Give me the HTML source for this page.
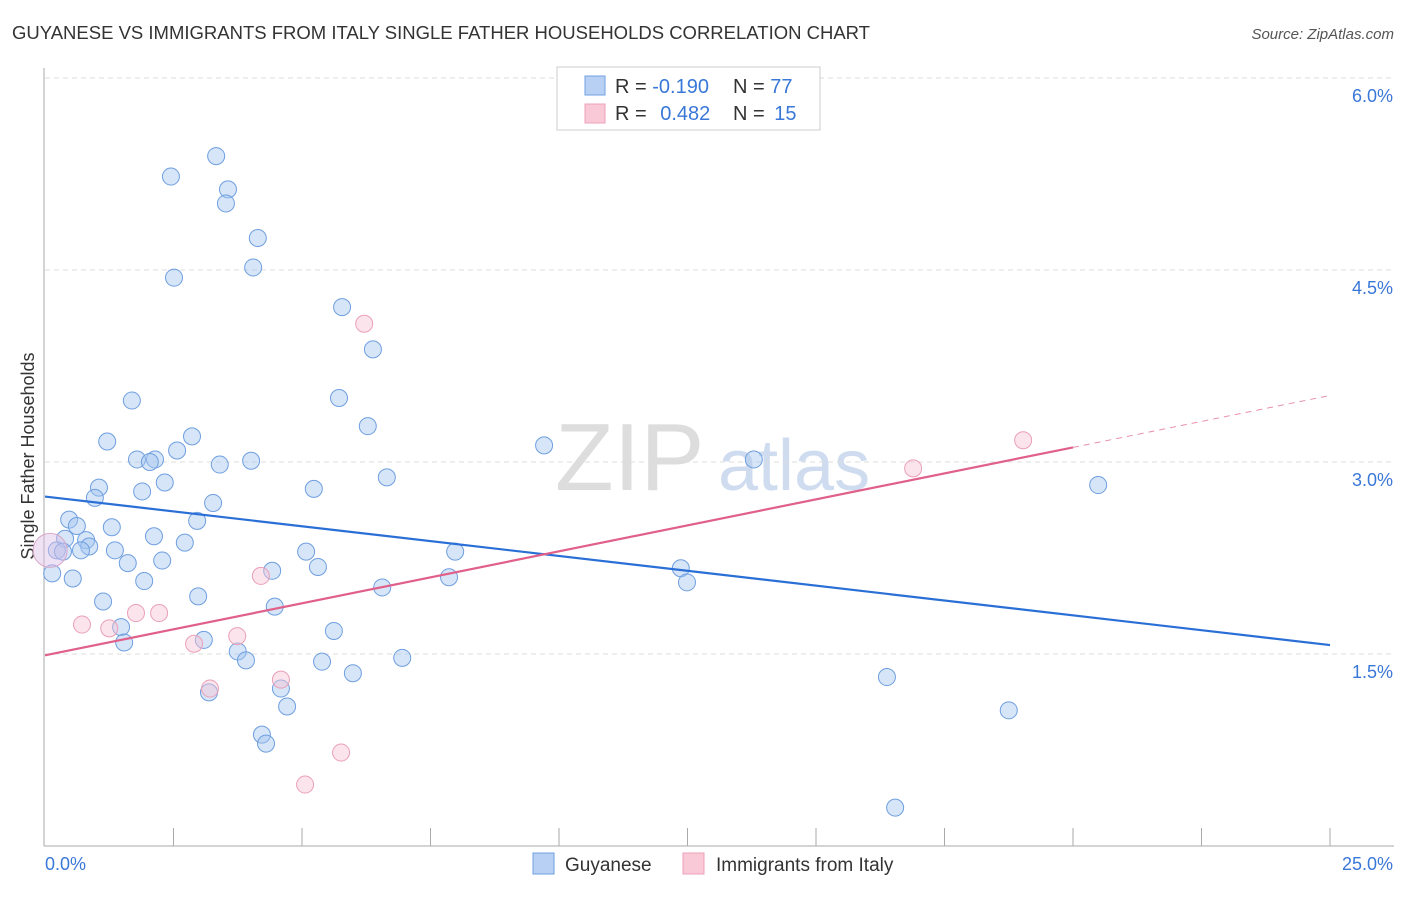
<!DOCTYPE html>
<html><head><meta charset="utf-8"><style>
body{margin:0;background:#fff;font-family:"Liberation Sans",sans-serif}
svg text{font-family:"Liberation Sans",sans-serif}
</style></head><body>
<svg id="chart" width="1406" height="892" xmlns="http://www.w3.org/2000/svg">
<text x="12" y="39" font-size="18.5" fill="#333">GUYANESE VS IMMIGRANTS FROM ITALY SINGLE FATHER HOUSEHOLDS CORRELATION CHART</text>
<text x="1394" y="39" font-size="15" fill="#555" font-style="italic" text-anchor="end">Source: ZipAtlas.com</text>
<text x="555" y="490" font-size="96" fill="#ddd" font-family="Liberation Serif">ZIP</text>
<text x="718" y="490" font-size="72" fill="#cfdcef">atlas</text>
<text transform="translate(34,456) rotate(-90)" font-size="18" fill="#333" text-anchor="middle">Single Father Households</text>
<g id="grid"></g><g id="axes"></g><g id="marks"></g>
<g>
<rect x="557" y="67" width="263" height="63" fill="#fff" stroke="#ccc"/>
<rect x="585" y="76" width="20" height="19" fill="#b8d0f3" stroke="#6f9fe0"/>
<rect x="585" y="104" width="20" height="19" fill="#f9c9d8" stroke="#eea0b8"/>
<text x="615" y="93" font-size="20" fill="#333">R = <tspan fill="#3a78d8">-0.190</tspan></text>
<text x="733" y="93" font-size="20" fill="#333">N = <tspan fill="#3a78d8">77</tspan></text>
<text x="615" y="120" font-size="20" fill="#333">R = <tspan fill="#3a78d8" dx="8">0.482</tspan></text>
<text x="733" y="120" font-size="20" fill="#333">N = <tspan fill="#3a78d8" dx="4">15</tspan></text>
</g>
<g>
<rect x="533" y="853" width="21" height="21" fill="#b8d0f3" stroke="#6f9fe0"/>
<text x="565" y="871" font-size="19" fill="#333">Guyanese</text>
<rect x="683" y="853" width="21" height="21" fill="#f9c9d8" stroke="#eea0b8"/>
<text x="716" y="871" font-size="19" fill="#333">Immigrants from Italy</text>
</g>
</svg>
<script>
const yTicks=[1.5,3.0,4.5,6.0];
const yTickLabels=["1.5%","3.0%","4.5%","6.0%"];
const xEndLabels=["0.0%","25.0%"];
const guyX=[3.33,2.45,3.56,3.52,4.14,4.05,2.51,5.78,6.38,1.69,5.72,6.28,1.21,2.86,9.71,2.57,1.79,2.14,2.04,3.40,4.01,13.79,6.65,2.33,20.49,1.05,1.89,5.23,0.97,3.27,0.47,2.96,0.62,1.30,2.12,0.39,0.80,2.72,0.86,0.23,0.70,0.35,1.36,5.08,7.98,1.61,2.28,5.31,4.42,12.37,0.14,7.86,12.49,0.54,1.93,6.56,2.98,1.13,4.47,1.48,5.62,1.54,3.09,3.75,3.91,5.39,6.95,5.99,16.38,4.59,3.19,4.71,18.75,4.22,4.30,16.54];
const guyY=[5.39,5.23,5.13,5.02,4.75,4.52,4.44,4.21,3.88,3.48,3.50,3.28,3.16,3.20,3.13,3.09,3.02,3.02,3.00,2.98,3.01,3.02,2.88,2.84,2.82,2.80,2.77,2.79,2.72,2.68,2.55,2.54,2.50,2.49,2.42,2.40,2.39,2.37,2.34,2.31,2.31,2.30,2.31,2.30,2.30,2.21,2.23,2.18,2.15,2.17,2.13,2.10,2.06,2.09,2.07,2.02,1.95,1.91,1.87,1.71,1.68,1.59,1.61,1.52,1.45,1.44,1.47,1.35,1.32,1.23,1.20,1.09,1.06,0.87,0.80,0.30];
const itaX=[6.21,19.03,16.89,4.20,0.72,1.25,1.77,2.22,3.74,2.90,4.59,3.21,5.76,5.06];
const itaY=[4.08,3.17,2.95,2.11,1.73,1.70,1.82,1.82,1.64,1.58,1.30,1.23,0.73,0.48];
const itaBigX=[0.10], itaBigY=[2.31];
const guyTrend=[2.73,1.57];
const itaTrend=[1.49,3.52];
const NS="http://www.w3.org/2000/svg";
const xs=v=>45+v*(1285/25), ys=v=>846-v*128;
function mk(tag,attrs,parent){const e=document.createElementNS(NS,tag);for(const k in attrs)e.setAttribute(k,attrs[k]);document.getElementById(parent).appendChild(e);return e;}
yTicks.forEach((t,i)=>{
 const l=mk('line',{x1:45,x2:1394,y1:ys(t),y2:ys(t),stroke:'#ddd','stroke-dasharray':'5,4'},'grid');
 
 
 const tx=mk('text',{x:1393,y:ys(t)+24,'font-size':18,fill:'#3a78d8','text-anchor':'end'},'grid');
 tx.textContent=yTickLabels[i];
 
 
});
let a=mk('line',{x1:44,x2:44,y1:68,y2:846,stroke:'#aaa'},'axes');


a=mk('line',{x1:44,x2:1394,y1:846,y2:846,stroke:'#aaa'},'axes');


for(let i=1;i<=10;i++){const t=mk('line',{x1:xs(i*2.5),x2:xs(i*2.5),y1:828,y2:846,stroke:'#aaa'},'axes');
 
 }
let xl=mk('text',{x:45,y:870,'font-size':18,fill:'#3a78d8'},'axes');xl.textContent=xEndLabels[0];


xl=mk('text',{x:1393,y:870,'font-size':18,fill:'#3a78d8','text-anchor':'end'},'axes');xl.textContent=xEndLabels[1];


guyX.forEach((x,i)=>{const c=mk('circle',{cx:xs(x),cy:ys(guyY[i]),r:8.5,fill:'rgba(165,198,240,0.45)',stroke:'#6f9fe0','stroke-width':1},'marks');
 
 });
itaX.forEach((x,i)=>{const c=mk('circle',{cx:xs(x),cy:ys(itaY[i]),r:8.5,fill:'rgba(248,195,212,0.45)',stroke:'#eaa0b8','stroke-width':1},'marks');
 
 });
itaBigX.forEach((x,i)=>{const c=mk('circle',{cx:xs(x),cy:ys(itaBigY[i]),r:17,fill:'rgba(220,190,230,0.45)',stroke:'#d8a8c8','stroke-width':1},'marks');
 
 });
let tl=mk('line',{x1:xs(0),y1:ys(guyTrend[0]),x2:xs(25),y2:ys(guyTrend[1]),stroke:'#2a6fd6','stroke-width':2.2},'marks');


const itaAt=x=>itaTrend[0]+(itaTrend[1]-itaTrend[0])*x/25;
tl=mk('line',{x1:xs(0),y1:ys(itaAt(0)),x2:xs(20),y2:ys(itaAt(20)),stroke:'#e0608a','stroke-width':2.2},'marks');


tl=mk('line',{x1:xs(20),y1:ys(itaAt(20)),x2:xs(25),y2:ys(itaAt(25)),stroke:'#e890ab','stroke-width':1,'stroke-dasharray':'6,5'},'marks');


</script>
</body></html>
